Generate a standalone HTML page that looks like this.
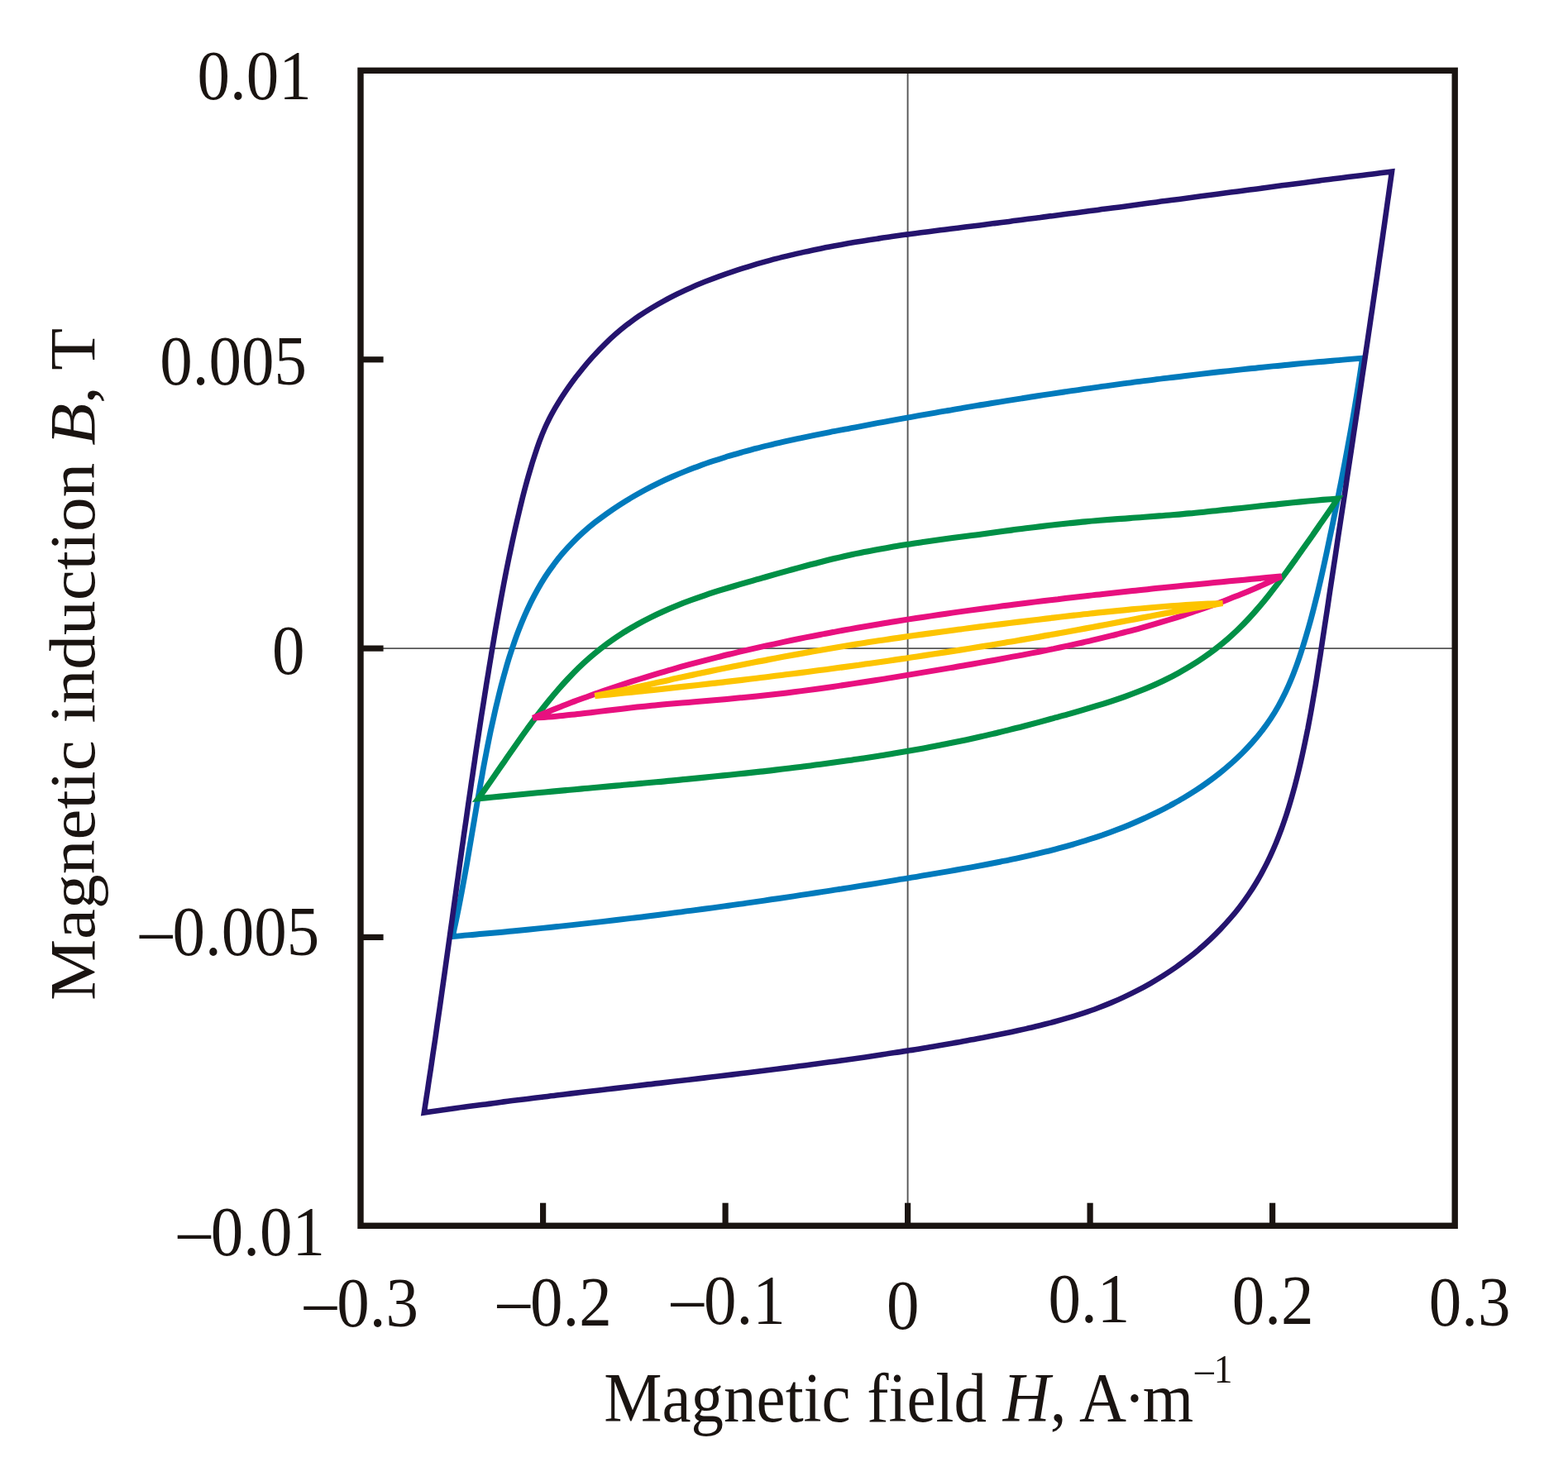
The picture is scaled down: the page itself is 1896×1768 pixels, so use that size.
<!DOCTYPE html>
<html lang="en">
<head>
<meta charset="utf-8">
<title>Hysteresis loops: magnetic induction B versus magnetic field H</title>
<style>
html,body{margin:0;padding:0;background:#fff;}
body{width:1896px;height:1768px;overflow:hidden;font-family:"Liberation Serif",serif;}
svg{display:block;}
</style>
</head>
<body>
<svg xmlns="http://www.w3.org/2000/svg" width="1896" height="1768" viewBox="0 0 1896 1768">
<rect width="1896" height="1768" fill="#ffffff"/>
<g stroke="#555555" stroke-width="1.9" fill="none">
<line x1="436.0" y1="784.1" x2="1759.2" y2="784.1"/>
<line x1="1097.6" y1="85.3" x2="1097.6" y2="1482.3"/>
</g>
<g fill="none" stroke-linejoin="miter" stroke-linecap="butt">
<path d="M1647.5 433.1C1641.5 433.6 1635.4 434.1 1629.4 434.6C1623.4 435.1 1617.4 435.6 1611.3 436.2C1605.3 436.7 1599.3 437.2 1593.3 437.8C1587.3 438.3 1581.3 438.9 1575.3 439.4C1569.3 440.0 1563.2 440.6 1557.2 441.2C1551.2 441.7 1545.2 442.3 1539.2 442.9C1533.3 443.5 1527.3 444.1 1521.3 444.7C1515.3 445.4 1509.3 446.0 1503.3 446.6C1497.3 447.3 1491.3 447.9 1485.4 448.6C1479.4 449.2 1473.4 449.9 1467.4 450.5C1461.5 451.2 1455.5 451.9 1449.5 452.6C1443.6 453.3 1437.6 454.0 1431.6 454.7C1425.6 455.4 1419.7 456.1 1413.7 456.9C1407.8 457.6 1401.8 458.3 1395.8 459.1C1389.9 459.8 1383.9 460.6 1378.0 461.4C1372.0 462.1 1366.1 462.9 1360.1 463.7C1354.2 464.5 1348.2 465.3 1342.3 466.1C1336.3 466.9 1330.4 467.7 1324.4 468.6C1318.5 469.4 1312.5 470.2 1306.6 471.1C1300.6 471.9 1294.7 472.8 1288.7 473.7C1282.8 474.6 1276.9 475.4 1270.9 476.3C1265.0 477.2 1259.0 478.1 1253.1 479.0C1247.2 480.0 1241.2 480.9 1235.3 481.8C1229.3 482.7 1223.4 483.7 1217.5 484.6C1211.5 485.6 1205.6 486.5 1199.6 487.5C1193.7 488.5 1187.8 489.5 1181.8 490.4C1175.9 491.4 1170.0 492.4 1164.0 493.4C1158.1 494.4 1152.1 495.4 1146.2 496.5C1140.3 497.5 1134.3 498.5 1128.4 499.6C1122.4 500.6 1116.5 501.7 1110.6 502.7C1104.6 503.8 1098.7 504.8 1092.7 505.9C1086.8 507.0 1080.9 508.1 1074.9 509.2C1069.0 510.2 1063.0 511.3 1057.1 512.4C1051.1 513.5 1045.2 514.7 1039.3 515.8C1033.3 516.9 1027.4 518.0 1021.4 519.2C1015.5 520.3 1009.5 521.4 1003.6 522.6C997.6 523.8 991.7 524.9 985.7 526.1C979.8 527.3 973.9 528.6 967.9 529.8C962.0 531.1 956.1 532.4 950.2 533.7C944.3 535.0 938.4 536.4 932.5 537.8C926.7 539.2 920.8 540.6 915.0 542.1C909.1 543.6 903.3 545.2 897.5 546.8C891.7 548.4 886.0 550.1 880.2 551.8C874.5 553.6 868.7 555.4 863.1 557.3C857.4 559.2 851.7 561.1 846.1 563.2C840.5 565.2 834.9 567.4 829.3 569.6C823.8 571.8 818.2 574.1 812.8 576.5C807.3 578.9 801.8 581.4 796.4 584.1C791.0 586.7 785.7 589.4 780.4 592.2C775.1 595.1 769.8 598.0 764.6 601.1C759.4 604.1 754.2 607.3 749.2 610.6C744.1 613.9 739.1 617.3 734.1 620.8C729.2 624.3 724.4 627.9 719.6 631.6C714.9 635.3 710.3 639.2 705.8 643.2C701.3 647.2 697.0 651.3 692.8 655.6C688.6 659.9 684.5 664.3 680.6 668.8C676.7 673.3 673.0 678.0 669.5 682.8C665.9 687.5 662.5 692.4 659.3 697.4C656.1 702.4 653.0 707.6 650.1 712.7C647.2 717.9 644.4 723.2 641.7 728.6C639.1 734.0 636.6 739.4 634.2 744.9C631.8 750.5 629.5 756.1 627.3 761.7C625.1 767.3 623.1 773.0 621.1 778.8C619.1 784.5 617.2 790.3 615.4 796.1C613.6 801.9 611.9 807.8 610.3 813.6C608.6 819.5 607.1 825.4 605.5 831.3C604.0 837.2 602.6 843.1 601.2 849.0C599.7 854.9 598.4 860.8 597.1 866.7C595.8 872.5 594.5 878.4 593.2 884.3C592.0 890.2 590.8 896.1 589.6 902.0C588.5 907.9 587.3 913.8 586.2 919.7C585.1 925.5 584.0 931.4 583.0 937.3C581.9 943.2 580.8 949.1 579.8 955.0C578.8 960.9 577.8 966.8 576.7 972.7C575.7 978.5 574.7 984.4 573.7 990.3C572.7 996.2 571.7 1002.1 570.7 1008.0C569.7 1013.9 568.7 1019.8 567.7 1025.7C566.7 1031.7 565.7 1037.6 564.7 1043.5C563.6 1049.4 562.6 1055.3 561.5 1061.2C560.4 1067.2 559.3 1073.1 558.2 1079.0C557.1 1084.9 556.0 1090.9 554.8 1096.8C553.6 1102.8 552.4 1108.7 551.2 1114.6C549.9 1120.6 548.6 1126.5 547.3 1132.5C553.4 1132.0 559.4 1131.5 565.5 1130.9C571.5 1130.4 577.5 1129.9 583.6 1129.3C589.6 1128.8 595.6 1128.2 601.7 1127.7C607.7 1127.1 613.7 1126.5 619.7 1126.0C625.8 1125.4 631.8 1124.8 637.8 1124.2C643.8 1123.6 649.8 1123.0 655.8 1122.4C661.8 1121.8 667.8 1121.1 673.8 1120.5C679.8 1119.9 685.8 1119.2 691.7 1118.6C697.7 1117.9 703.7 1117.3 709.7 1116.6C715.7 1115.9 721.6 1115.3 727.6 1114.6C733.6 1113.9 739.6 1113.2 745.5 1112.5C751.5 1111.8 757.5 1111.1 763.4 1110.4C769.4 1109.6 775.3 1108.9 781.3 1108.2C787.2 1107.5 793.2 1106.7 799.2 1106.0C805.1 1105.2 811.1 1104.5 817.0 1103.7C823.0 1102.9 828.9 1102.1 834.9 1101.4C840.8 1100.6 846.7 1099.8 852.7 1099.0C858.6 1098.2 864.6 1097.4 870.5 1096.6C876.5 1095.8 882.4 1095.0 888.3 1094.1C894.3 1093.3 900.2 1092.5 906.2 1091.6C912.1 1090.8 918.1 1089.9 924.0 1089.1C929.9 1088.2 935.9 1087.3 941.8 1086.5C947.8 1085.6 953.7 1084.7 959.6 1083.8C965.6 1082.9 971.5 1082.0 977.5 1081.1C983.4 1080.2 989.4 1079.3 995.3 1078.4C1001.3 1077.5 1007.2 1076.6 1013.2 1075.6C1019.1 1074.7 1025.1 1073.8 1031.0 1072.8C1037.0 1071.9 1042.9 1070.9 1048.9 1070.0C1054.8 1069.0 1060.8 1068.1 1066.7 1067.1C1072.7 1066.1 1078.7 1065.1 1084.6 1064.1C1090.6 1063.2 1096.6 1062.2 1102.5 1061.2C1108.5 1060.2 1114.5 1059.2 1120.5 1058.1C1126.5 1057.1 1132.4 1056.1 1138.4 1055.1C1144.4 1054.1 1150.4 1053.0 1156.4 1052.0C1162.4 1050.9 1168.3 1049.9 1174.3 1048.8C1180.3 1047.7 1186.3 1046.6 1192.3 1045.5C1198.2 1044.4 1204.2 1043.2 1210.2 1042.0C1216.1 1040.8 1222.1 1039.6 1228.0 1038.3C1233.9 1037.1 1239.8 1035.8 1245.8 1034.4C1251.6 1033.1 1257.5 1031.7 1263.4 1030.2C1269.3 1028.8 1275.1 1027.3 1281.0 1025.7C1286.8 1024.2 1292.6 1022.6 1298.4 1020.9C1304.1 1019.2 1309.9 1017.5 1315.6 1015.6C1321.3 1013.8 1327.0 1011.9 1332.7 1010.0C1338.3 1008.0 1344.0 1005.9 1349.6 1003.8C1355.2 1001.7 1360.7 999.5 1366.2 997.2C1371.7 994.9 1377.2 992.5 1382.7 990.0C1388.1 987.6 1393.5 985.0 1398.9 982.4C1404.2 979.7 1409.5 977.0 1414.8 974.2C1420.0 971.3 1425.3 968.4 1430.4 965.4C1435.6 962.3 1440.7 959.1 1445.7 955.9C1450.8 952.6 1455.8 949.2 1460.7 945.6C1465.6 942.1 1470.4 938.4 1475.1 934.7C1479.9 930.9 1484.5 927.0 1489.0 923.0C1493.5 919.0 1498.0 914.8 1502.2 910.6C1506.5 906.3 1510.6 901.9 1514.6 897.4C1518.6 892.9 1522.5 888.3 1526.1 883.5C1529.8 878.8 1533.3 873.9 1536.6 868.9C1539.9 863.9 1543.0 858.8 1545.9 853.6C1548.9 848.3 1551.6 843.0 1554.2 837.6C1556.8 832.1 1559.2 826.6 1561.5 821.0C1563.8 815.5 1565.9 809.8 1568.0 804.1C1570.0 798.4 1572.0 792.7 1573.8 786.9C1575.7 781.1 1577.5 775.3 1579.2 769.5C1580.9 763.7 1582.6 757.9 1584.2 752.1C1585.8 746.3 1587.3 740.4 1588.8 734.6C1590.3 728.8 1591.7 722.9 1593.2 717.1C1594.6 711.2 1595.9 705.3 1597.3 699.5C1598.6 693.6 1599.9 687.7 1601.2 681.9C1602.5 676.0 1603.8 670.1 1605.0 664.2C1606.3 658.3 1607.5 652.4 1608.7 646.5C1610.0 640.6 1611.2 634.7 1612.4 628.8C1613.6 622.9 1614.8 617.0 1616.0 611.1C1617.2 605.2 1618.4 599.3 1619.5 593.3C1620.7 587.4 1621.9 581.5 1623.0 575.6C1624.2 569.6 1625.3 563.7 1626.4 557.8C1627.5 551.8 1628.6 545.9 1629.7 540.0C1630.8 534.0 1631.9 528.1 1633.0 522.2C1634.0 516.2 1635.1 510.3 1636.1 504.4C1637.1 498.4 1638.1 492.5 1639.1 486.5C1640.1 480.6 1641.1 474.7 1642.0 468.7C1643.0 462.8 1643.9 456.8 1644.8 450.9C1645.7 445.0 1646.6 439.0 1647.5 433.1Z" stroke="#007abc" stroke-width="6.9" stroke-miterlimit="4"/>
<path d="M1683.0 207.5C1677.1 208.2 1671.2 208.9 1665.4 209.7C1659.5 210.4 1653.6 211.1 1647.7 211.9C1641.8 212.6 1635.9 213.4 1630.0 214.1C1624.1 214.8 1618.2 215.6 1612.3 216.3C1606.4 217.1 1600.4 217.9 1594.5 218.6C1588.6 219.4 1582.7 220.1 1576.8 220.9C1570.8 221.7 1564.9 222.4 1559.0 223.2C1553.1 224.0 1547.1 224.7 1541.2 225.5C1535.3 226.3 1529.3 227.1 1523.4 227.9C1517.5 228.6 1511.5 229.4 1505.6 230.2C1499.7 231.0 1493.7 231.8 1487.8 232.6C1481.8 233.4 1475.9 234.1 1469.9 234.9C1464.0 235.7 1458.1 236.5 1452.1 237.3C1446.2 238.1 1440.2 238.9 1434.3 239.7C1428.3 240.5 1422.4 241.3 1416.4 242.1C1410.5 242.8 1404.5 243.6 1398.6 244.4C1392.6 245.2 1386.7 246.0 1380.7 246.8C1374.8 247.6 1368.8 248.4 1362.9 249.2C1356.9 250.0 1351.0 250.8 1345.0 251.6C1339.1 252.3 1333.1 253.1 1327.2 253.9C1321.2 254.7 1315.3 255.5 1309.3 256.3C1303.4 257.1 1297.4 257.8 1291.5 258.6C1285.5 259.4 1279.6 260.2 1273.6 261.0C1267.7 261.7 1261.8 262.5 1255.8 263.3C1249.9 264.0 1243.9 264.8 1238.0 265.6C1232.1 266.3 1226.1 267.1 1220.2 267.9C1214.3 268.6 1208.3 269.4 1202.4 270.1C1196.5 270.9 1190.6 271.6 1184.6 272.4C1178.7 273.1 1172.8 273.9 1166.9 274.6C1161.0 275.3 1155.1 276.1 1149.2 276.8C1143.2 277.6 1137.3 278.3 1131.4 279.0C1125.5 279.8 1119.6 280.5 1113.7 281.3C1107.8 282.1 1102.0 282.9 1096.1 283.6C1090.2 284.4 1084.3 285.3 1078.4 286.1C1072.5 286.9 1066.7 287.8 1060.8 288.7C1054.9 289.6 1049.1 290.5 1043.2 291.4C1037.3 292.4 1031.5 293.3 1025.6 294.3C1019.8 295.4 1013.9 296.4 1008.1 297.5C1002.2 298.6 996.4 299.7 990.6 300.9C984.7 302.1 978.9 303.3 973.1 304.6C967.3 305.9 961.5 307.2 955.7 308.6C949.8 310.0 944.0 311.4 938.3 312.9C932.5 314.4 926.7 316.0 920.9 317.6C915.1 319.3 909.3 321.0 903.6 322.8C897.8 324.5 892.0 326.4 886.3 328.3C880.5 330.2 874.8 332.2 869.1 334.3C863.4 336.4 857.7 338.6 852.1 340.8C846.5 343.1 840.9 345.4 835.3 347.9C829.8 350.3 824.3 352.9 818.9 355.5C813.5 358.2 808.2 360.9 802.9 363.8C797.7 366.6 792.5 369.6 787.4 372.7C782.3 375.8 777.3 379.0 772.4 382.3C767.6 385.6 762.8 389.1 758.1 392.7C753.5 396.3 749.0 400.0 744.6 403.8C740.1 407.7 735.9 411.7 731.7 415.8C727.5 419.9 723.4 424.1 719.5 428.5C715.4 432.8 711.5 437.3 707.7 441.8C703.9 446.4 700.2 451.1 696.5 455.8C692.9 460.6 689.3 465.5 685.9 470.4C682.5 475.4 679.1 480.4 676.0 485.6C672.8 490.7 669.8 495.9 666.9 501.2C664.1 506.5 661.4 511.8 659.0 517.3C656.6 522.7 654.4 528.2 652.3 533.7C650.3 539.2 648.4 544.9 646.6 550.5C644.7 556.1 642.9 561.8 641.3 567.5C639.6 573.2 637.9 579.0 636.4 584.7C634.8 590.5 633.3 596.3 631.8 602.1C630.4 607.9 628.9 613.8 627.6 619.6C626.2 625.4 624.8 631.3 623.5 637.1C622.2 643.0 620.9 648.8 619.6 654.7C618.4 660.5 617.1 666.4 615.9 672.2C614.7 678.1 613.5 684.0 612.3 689.8C611.2 695.7 610.0 701.6 608.9 707.5C607.8 713.3 606.7 719.2 605.6 725.1C604.6 731.0 603.5 736.9 602.4 742.8C601.4 748.6 600.4 754.5 599.3 760.4C598.3 766.3 597.3 772.2 596.3 778.1C595.3 784.0 594.3 789.9 593.4 795.8C592.4 801.7 591.4 807.6 590.5 813.5C589.5 819.4 588.5 825.3 587.6 831.2C586.7 837.1 585.7 843.0 584.8 848.9C583.9 854.8 582.9 860.7 582.0 866.6C581.1 872.5 580.2 878.4 579.3 884.3C578.4 890.2 577.5 896.1 576.6 902.0C575.7 907.9 574.8 913.8 574.0 919.7C573.1 925.6 572.2 931.6 571.4 937.5C570.5 943.4 569.6 949.3 568.8 955.2C567.9 961.1 567.1 967.0 566.2 972.9C565.4 978.8 564.5 984.7 563.7 990.7C562.8 996.6 562.0 1002.5 561.1 1008.4C560.3 1014.3 559.5 1020.2 558.6 1026.1C557.8 1032.0 557.0 1038.0 556.1 1043.9C555.3 1049.8 554.5 1055.7 553.7 1061.6C552.8 1067.5 552.0 1073.4 551.2 1079.4C550.4 1085.3 549.5 1091.2 548.7 1097.1C547.9 1103.0 547.1 1108.9 546.3 1114.9C545.4 1120.8 544.6 1126.7 543.8 1132.6C543.0 1138.5 542.1 1144.4 541.3 1150.4C540.5 1156.3 539.6 1162.2 538.8 1168.1C538.0 1174.0 537.2 1179.9 536.3 1185.9C535.5 1191.8 534.6 1197.7 533.8 1203.6C533.0 1209.5 532.1 1215.5 531.3 1221.4C530.4 1227.3 529.6 1233.2 528.7 1239.1C527.9 1245.0 527.0 1251.0 526.2 1256.9C525.3 1262.8 524.4 1268.7 523.5 1274.6C522.7 1280.5 521.8 1286.5 520.9 1292.4C520.0 1298.3 519.1 1304.2 518.2 1310.1C517.4 1316.0 516.5 1321.9 515.5 1327.9C514.6 1333.8 513.7 1339.7 512.8 1345.6C518.7 1344.7 524.7 1343.9 530.6 1343.0C536.5 1342.2 542.4 1341.4 548.4 1340.6C554.3 1339.7 560.2 1338.9 566.2 1338.1C572.1 1337.3 578.0 1336.5 584.0 1335.7C589.9 1335.0 595.8 1334.2 601.7 1333.4C607.7 1332.7 613.6 1331.9 619.5 1331.1C625.5 1330.4 631.4 1329.6 637.3 1328.9C643.2 1328.2 649.2 1327.4 655.1 1326.7C661.0 1326.0 667.0 1325.3 672.9 1324.5C678.8 1323.8 684.8 1323.1 690.7 1322.4C696.6 1321.7 702.5 1321.0 708.5 1320.3C714.4 1319.6 720.3 1318.9 726.3 1318.2C732.2 1317.5 738.1 1316.8 744.0 1316.1C750.0 1315.4 755.9 1314.7 761.8 1314.0C767.8 1313.3 773.7 1312.6 779.6 1311.9C785.5 1311.3 791.5 1310.6 797.4 1309.9C803.3 1309.2 809.2 1308.5 815.2 1307.8C821.1 1307.1 827.0 1306.4 832.9 1305.7C838.9 1305.0 844.8 1304.3 850.7 1303.6C856.6 1302.9 862.6 1302.2 868.5 1301.5C874.4 1300.8 880.3 1300.1 886.3 1299.4C892.2 1298.7 898.1 1297.9 904.0 1297.2C910.0 1296.5 915.9 1295.7 921.8 1295.0C927.7 1294.3 933.6 1293.5 939.6 1292.8C945.5 1292.0 951.4 1291.3 957.3 1290.5C963.2 1289.7 969.2 1289.0 975.1 1288.2C981.0 1287.4 986.9 1286.6 992.8 1285.8C998.7 1285.0 1004.7 1284.2 1010.6 1283.4C1016.5 1282.6 1022.4 1281.7 1028.3 1280.9C1034.2 1280.1 1040.2 1279.2 1046.1 1278.4C1052.0 1277.5 1057.9 1276.6 1063.8 1275.7C1069.7 1274.9 1075.6 1274.0 1081.5 1273.1C1087.4 1272.1 1093.4 1271.2 1099.3 1270.3C1105.2 1269.4 1111.1 1268.4 1117.0 1267.4C1122.9 1266.5 1128.8 1265.5 1134.7 1264.5C1140.6 1263.5 1146.5 1262.5 1152.4 1261.5C1158.3 1260.5 1164.2 1259.4 1170.1 1258.3C1176.0 1257.3 1181.9 1256.2 1187.8 1255.1C1193.7 1253.9 1199.6 1252.8 1205.4 1251.6C1211.3 1250.4 1217.1 1249.2 1223.0 1248.0C1228.8 1246.7 1234.7 1245.4 1240.5 1244.1C1246.3 1242.8 1252.1 1241.4 1257.9 1240.0C1263.6 1238.5 1269.4 1237.1 1275.2 1235.5C1280.9 1234.0 1286.6 1232.4 1292.3 1230.7C1298.0 1229.0 1303.7 1227.3 1309.4 1225.4C1315.0 1223.5 1320.6 1221.6 1326.2 1219.5C1331.8 1217.4 1337.4 1215.2 1342.9 1212.9C1348.4 1210.6 1353.9 1208.2 1359.3 1205.6C1364.8 1203.1 1370.2 1200.5 1375.5 1197.7C1380.8 1195.0 1386.1 1192.1 1391.3 1189.1C1396.5 1186.1 1401.6 1183.0 1406.7 1179.8C1411.7 1176.6 1416.7 1173.3 1421.6 1169.9C1426.5 1166.4 1431.4 1162.9 1436.1 1159.2C1440.8 1155.6 1445.5 1151.8 1450.0 1147.9C1454.6 1144.1 1459.0 1140.1 1463.3 1136.0C1467.7 1131.9 1471.9 1127.7 1476.0 1123.4C1480.1 1119.1 1484.1 1114.7 1488.0 1110.2C1491.9 1105.7 1495.6 1101.1 1499.2 1096.4C1502.8 1091.7 1506.3 1086.9 1509.6 1082.0C1513.0 1077.1 1516.2 1072.1 1519.2 1067.0C1522.3 1061.9 1525.2 1056.8 1527.9 1051.5C1530.7 1046.3 1533.3 1041.0 1535.8 1035.6C1538.3 1030.2 1540.7 1024.7 1543.0 1019.2C1545.3 1013.7 1547.4 1008.1 1549.5 1002.5C1551.6 996.9 1553.5 991.2 1555.4 985.5C1557.3 979.8 1559.0 974.1 1560.7 968.3C1562.4 962.5 1564.0 956.7 1565.6 950.9C1567.1 945.1 1568.6 939.2 1570.0 933.4C1571.5 927.5 1572.8 921.7 1574.1 915.8C1575.4 909.9 1576.7 904.1 1577.9 898.2C1579.1 892.3 1580.3 886.5 1581.5 880.6C1582.6 874.7 1583.7 868.8 1584.8 863.0C1585.9 857.1 1586.9 851.2 1587.9 845.3C1588.9 839.5 1589.9 833.6 1590.9 827.7C1591.8 821.8 1592.8 816.0 1593.7 810.1C1594.6 804.2 1595.5 798.3 1596.5 792.4C1597.4 786.5 1598.2 780.6 1599.1 774.8C1600.0 768.9 1600.9 763.0 1601.8 757.1C1602.7 751.2 1603.6 745.3 1604.5 739.4C1605.4 733.5 1606.3 727.6 1607.1 721.7C1608.0 715.8 1608.9 709.9 1609.8 704.0C1610.7 698.1 1611.6 692.2 1612.5 686.3C1613.4 680.4 1614.3 674.5 1615.2 668.6C1616.1 662.7 1616.9 656.8 1617.8 650.9C1618.7 645.0 1619.6 639.1 1620.5 633.2C1621.4 627.3 1622.3 621.4 1623.2 615.5C1624.1 609.6 1625.0 603.7 1625.9 597.8C1626.8 591.8 1627.7 585.9 1628.5 580.0C1629.4 574.1 1630.3 568.2 1631.2 562.3C1632.1 556.4 1633.0 550.5 1633.9 544.5C1634.8 538.6 1635.7 532.7 1636.5 526.8C1637.4 520.9 1638.3 515.0 1639.2 509.1C1640.1 503.1 1641.0 497.2 1641.9 491.3C1642.7 485.4 1643.6 479.5 1644.5 473.6C1645.4 467.6 1646.3 461.7 1647.1 455.8C1648.0 449.9 1648.9 444.0 1649.8 438.1C1650.7 432.1 1651.5 426.2 1652.4 420.3C1653.3 414.4 1654.1 408.5 1655.0 402.6C1655.9 396.6 1656.8 390.7 1657.6 384.8C1658.5 378.9 1659.4 373.0 1660.2 367.1C1661.1 361.2 1661.9 355.2 1662.8 349.3C1663.7 343.4 1664.5 337.5 1665.4 331.6C1666.2 325.7 1667.1 319.8 1667.9 313.8C1668.8 307.9 1669.6 302.0 1670.5 296.1C1671.3 290.2 1672.2 284.3 1673.0 278.4C1673.9 272.5 1674.7 266.6 1675.5 260.7C1676.4 254.7 1677.2 248.8 1678.0 242.9C1678.9 237.0 1679.7 231.1 1680.5 225.2C1681.4 219.3 1682.2 213.4 1683.0 207.5Z" stroke="#25146e" stroke-width="6.6" stroke-miterlimit="4"/>
<path d="M1617.5 603.0C1611.5 603.5 1605.5 603.9 1599.5 604.4C1593.5 604.9 1587.6 605.5 1581.6 606.0C1575.6 606.6 1569.6 607.2 1563.6 607.8C1557.6 608.4 1551.6 609.0 1545.6 609.6C1539.7 610.3 1533.7 610.9 1527.7 611.5C1521.7 612.2 1515.7 612.8 1509.7 613.5C1503.7 614.1 1497.7 614.8 1491.7 615.4C1485.8 616.1 1479.8 616.7 1473.8 617.3C1467.8 618.0 1461.8 618.6 1455.8 619.2C1449.8 619.8 1443.8 620.4 1437.9 620.9C1431.9 621.5 1425.9 622.0 1419.9 622.5C1413.9 623.0 1407.9 623.5 1401.9 623.9C1396.0 624.4 1390.0 624.8 1384.0 625.3C1378.0 625.7 1372.0 626.1 1366.1 626.6C1360.1 627.0 1354.1 627.4 1348.1 627.9C1342.2 628.4 1336.2 628.8 1330.2 629.3C1324.2 629.8 1318.3 630.3 1312.3 630.9C1306.3 631.4 1300.3 632.0 1294.4 632.6C1288.4 633.2 1282.4 633.9 1276.5 634.5C1270.5 635.2 1264.6 635.9 1258.6 636.6C1252.6 637.3 1246.7 638.1 1240.7 638.8C1234.8 639.6 1228.8 640.4 1222.9 641.1C1216.9 641.9 1211.0 642.7 1205.0 643.5C1199.1 644.3 1193.1 645.1 1187.2 645.9C1181.2 646.6 1175.3 647.4 1169.4 648.2C1163.4 649.0 1157.5 649.8 1151.6 650.6C1145.6 651.4 1139.7 652.2 1133.8 653.0C1127.8 653.9 1121.9 654.7 1116.0 655.6C1110.1 656.5 1104.2 657.3 1098.2 658.3C1092.3 659.2 1086.4 660.1 1080.5 661.1C1074.6 662.1 1068.7 663.2 1062.8 664.2C1056.9 665.3 1051.0 666.4 1045.1 667.6C1039.2 668.8 1033.3 670.0 1027.4 671.3C1021.5 672.6 1015.6 673.9 1009.8 675.3C1003.9 676.7 998.0 678.2 992.1 679.7C986.3 681.1 980.4 682.7 974.5 684.2C968.7 685.8 962.8 687.4 957.0 689.0C951.1 690.6 945.2 692.3 939.4 693.9C933.5 695.6 927.7 697.2 921.9 698.9C916.0 700.5 910.2 702.2 904.4 703.9C898.6 705.5 892.7 707.2 886.9 709.0C881.2 710.7 875.4 712.4 869.6 714.2C863.9 716.0 858.2 717.9 852.5 719.8C846.8 721.7 841.1 723.7 835.5 725.8C829.9 727.8 824.4 729.9 818.8 732.2C813.3 734.4 807.8 736.7 802.4 739.2C797.0 741.6 791.6 744.1 786.3 746.8C781.0 749.4 775.8 752.2 770.6 755.1C765.5 758.0 760.4 761.0 755.3 764.1C750.3 767.3 745.4 770.5 740.5 773.9C735.6 777.3 730.9 780.8 726.2 784.5C721.5 788.2 716.9 792.0 712.4 795.9C707.9 799.8 703.5 803.9 699.2 808.0C694.9 812.2 690.7 816.6 686.6 821.0C682.4 825.4 678.4 829.9 674.4 834.5C670.4 839.1 666.5 843.8 662.7 848.5C658.8 853.3 655.0 858.1 651.3 862.9C647.6 867.8 643.9 872.7 640.3 877.6C636.7 882.6 633.1 887.5 629.6 892.5C626.1 897.5 622.6 902.5 619.1 907.5C615.6 912.4 612.2 917.4 608.8 922.4C605.3 927.3 602.0 932.3 598.5 937.2C595.2 942.0 591.8 946.9 588.4 951.7C585.1 956.4 581.7 961.1 578.3 965.8C584.3 965.2 590.2 964.6 596.2 964.0C602.1 963.4 608.1 962.8 614.0 962.2C620.0 961.6 626.0 961.1 631.9 960.5C637.9 959.9 643.9 959.4 649.8 958.8C655.8 958.2 661.8 957.7 667.8 957.1C673.7 956.6 679.7 956.0 685.7 955.5C691.7 955.0 697.6 954.4 703.6 953.9C709.6 953.3 715.6 952.8 721.6 952.3C727.6 951.7 733.6 951.2 739.5 950.6C745.5 950.1 751.5 949.6 757.5 949.0C763.5 948.5 769.5 947.9 775.5 947.4C781.5 946.9 787.5 946.3 793.4 945.8C799.4 945.2 805.4 944.6 811.4 944.1C817.4 943.5 823.4 942.9 829.4 942.4C835.4 941.8 841.4 941.2 847.3 940.6C853.3 940.0 859.3 939.4 865.3 938.8C871.3 938.2 877.3 937.6 883.3 937.0C889.3 936.4 895.2 935.7 901.2 935.1C907.2 934.4 913.2 933.8 919.2 933.1C925.1 932.5 931.1 931.8 937.1 931.1C943.1 930.4 949.0 929.7 955.0 929.0C961.0 928.2 966.9 927.5 972.9 926.8C978.9 926.0 984.8 925.2 990.8 924.5C996.8 923.7 1002.7 922.9 1008.7 922.1C1014.6 921.2 1020.6 920.4 1026.5 919.5C1032.5 918.7 1038.4 917.8 1044.4 916.9C1050.3 916.0 1056.2 915.1 1062.2 914.2C1068.1 913.3 1074.0 912.3 1080.0 911.3C1085.9 910.3 1091.8 909.3 1097.7 908.3C1103.6 907.3 1109.5 906.2 1115.4 905.2C1121.4 904.1 1127.3 903.0 1133.2 901.8C1139.1 900.7 1144.9 899.5 1150.8 898.3C1156.7 897.1 1162.6 895.9 1168.5 894.7C1174.4 893.4 1180.2 892.1 1186.1 890.8C1192.0 889.5 1197.8 888.1 1203.7 886.7C1209.5 885.3 1215.4 883.9 1221.2 882.4C1227.1 881.0 1232.9 879.5 1238.7 878.0C1244.6 876.5 1250.4 874.9 1256.2 873.4C1262.0 871.8 1267.8 870.2 1273.6 868.6C1279.4 867.1 1285.2 865.4 1291.0 863.8C1296.8 862.2 1302.6 860.5 1308.3 858.8C1314.1 857.2 1319.9 855.5 1325.6 853.7C1331.3 852.0 1337.1 850.2 1342.8 848.3C1348.4 846.5 1354.1 844.6 1359.7 842.6C1365.3 840.6 1370.9 838.5 1376.5 836.3C1382.0 834.2 1387.5 831.9 1393.0 829.5C1398.4 827.1 1403.8 824.7 1409.2 822.0C1414.5 819.4 1419.8 816.7 1425.0 813.8C1430.2 810.9 1435.4 808.0 1440.5 804.8C1445.5 801.7 1450.5 798.5 1455.4 795.1C1460.4 791.7 1465.2 788.2 1469.9 784.6C1474.7 780.9 1479.3 777.1 1483.9 773.2C1488.4 769.3 1492.9 765.2 1497.2 761.0C1501.6 756.8 1505.8 752.5 1510.0 748.0C1514.1 743.6 1518.2 739.0 1522.1 734.4C1526.1 729.7 1530.0 725.0 1533.8 720.2C1537.6 715.4 1541.4 710.5 1545.1 705.7C1548.8 700.8 1552.4 695.9 1556.0 691.0C1559.5 686.1 1563.0 681.2 1566.6 676.3C1570.0 671.4 1573.5 666.5 1576.9 661.7C1580.4 656.8 1583.8 652.0 1587.2 647.2C1590.5 642.3 1593.9 637.5 1597.3 632.6C1600.6 627.7 1604.0 622.8 1607.4 617.9C1610.8 613.0 1614.1 608.0 1617.5 603.0Z" stroke="#009046" stroke-width="7.1" stroke-miterlimit="4"/>
<path d="M1549.5 697.0C1543.5 697.5 1537.5 698.1 1531.6 698.6C1525.6 699.2 1519.6 699.7 1513.6 700.3C1507.6 700.9 1501.6 701.4 1495.6 702.0C1489.6 702.6 1483.6 703.1 1477.6 703.7C1471.6 704.3 1465.6 704.8 1459.6 705.4C1453.6 706.0 1447.6 706.6 1441.6 707.2C1435.6 707.8 1429.6 708.4 1423.6 709.0C1417.5 709.6 1411.5 710.2 1405.5 710.8C1399.5 711.4 1393.5 712.0 1387.5 712.7C1381.4 713.3 1375.4 713.9 1369.4 714.6C1363.4 715.2 1357.4 715.9 1351.3 716.5C1345.3 717.2 1339.3 717.8 1333.3 718.5C1327.3 719.1 1321.2 719.8 1315.2 720.5C1309.2 721.2 1303.2 721.9 1297.2 722.6C1291.1 723.2 1285.1 723.9 1279.1 724.7C1273.1 725.4 1267.1 726.1 1261.0 726.8C1255.0 727.5 1249.0 728.3 1243.0 729.0C1237.0 729.8 1231.0 730.5 1224.9 731.3C1218.9 732.0 1212.9 732.8 1206.9 733.6C1200.9 734.4 1194.9 735.2 1188.9 736.0C1182.9 736.8 1176.9 737.6 1170.9 738.4C1164.9 739.2 1158.9 740.1 1152.9 740.9C1146.9 741.8 1140.9 742.6 1134.9 743.5C1128.9 744.4 1122.9 745.3 1116.9 746.2C1110.9 747.1 1105.0 748.0 1099.0 748.9C1093.0 749.9 1087.0 750.8 1081.1 751.8C1075.1 752.7 1069.1 753.7 1063.1 754.7C1057.2 755.7 1051.2 756.7 1045.3 757.7C1039.3 758.8 1033.4 759.8 1027.4 760.9C1021.5 761.9 1015.5 763.0 1009.6 764.1C1003.7 765.2 997.7 766.3 991.8 767.5C985.9 768.6 979.9 769.8 974.0 770.9C968.1 772.1 962.2 773.3 956.3 774.5C950.4 775.8 944.5 777.0 938.6 778.3C932.7 779.5 926.8 780.8 920.9 782.1C915.0 783.4 909.2 784.8 903.3 786.1C897.4 787.5 891.6 788.9 885.7 790.3C879.9 791.7 874.0 793.1 868.2 794.6C862.3 796.1 856.5 797.6 850.7 799.1C844.8 800.6 839.0 802.2 833.2 803.7C827.4 805.3 821.6 806.9 815.8 808.6C810.0 810.2 804.2 811.9 798.4 813.6C792.6 815.3 786.9 817.0 781.1 818.8C775.3 820.6 769.6 822.4 763.8 824.2C758.1 826.0 752.3 827.9 746.6 829.8C740.9 831.7 735.2 833.7 729.4 835.6C723.7 837.6 718.0 839.6 712.3 841.7C706.6 843.7 701.0 845.8 695.3 847.9C689.6 850.1 683.9 852.2 678.3 854.5C672.6 856.7 667.0 858.9 661.4 861.2C655.7 863.5 650.1 865.8 644.5 868.2C650.5 867.8 656.4 867.5 662.4 867.0C668.4 866.5 674.3 866.0 680.3 865.4C686.3 864.8 692.3 864.2 698.3 863.5C704.3 862.9 710.2 862.2 716.2 861.5C722.2 860.8 728.2 860.0 734.2 859.3C740.2 858.6 746.2 857.9 752.2 857.2C758.3 856.5 764.3 855.8 770.3 855.1C776.3 854.5 782.3 853.8 788.3 853.2C794.3 852.7 800.4 852.1 806.4 851.5C812.4 851.0 818.4 850.5 824.5 850.0C830.5 849.4 836.5 848.9 842.6 848.4C848.6 847.9 854.6 847.4 860.6 846.9C866.7 846.4 872.7 845.9 878.7 845.4C884.8 844.8 890.8 844.3 896.8 843.7C902.9 843.1 908.9 842.5 914.9 841.9C921.0 841.3 927.0 840.6 933.1 840.0C939.1 839.3 945.1 838.6 951.2 837.9C957.2 837.1 963.2 836.4 969.2 835.6C975.3 834.8 981.3 834.0 987.3 833.2C993.4 832.4 999.4 831.5 1005.4 830.7C1011.4 829.8 1017.5 828.9 1023.5 828.0C1029.5 827.1 1035.5 826.2 1041.5 825.3C1047.5 824.4 1053.5 823.4 1059.6 822.5C1065.6 821.5 1071.6 820.5 1077.6 819.6C1083.6 818.6 1089.6 817.6 1095.6 816.6C1101.6 815.6 1107.6 814.6 1113.5 813.6C1119.5 812.6 1125.5 811.6 1131.5 810.6C1137.5 809.6 1143.4 808.6 1149.4 807.6C1155.4 806.5 1161.4 805.5 1167.3 804.5C1173.3 803.5 1179.2 802.4 1185.2 801.4C1191.1 800.3 1197.1 799.3 1203.0 798.2C1209.0 797.1 1214.9 796.0 1220.8 794.9C1226.7 793.9 1232.7 792.7 1238.6 791.6C1244.5 790.5 1250.4 789.3 1256.3 788.2C1262.2 787.0 1268.1 785.8 1274.0 784.6C1279.9 783.4 1285.7 782.1 1291.6 780.9C1297.5 779.6 1303.3 778.3 1309.2 777.0C1315.1 775.7 1320.9 774.3 1326.7 772.9C1332.6 771.5 1338.4 770.1 1344.2 768.7C1350.1 767.2 1355.9 765.8 1361.7 764.2C1367.5 762.7 1373.3 761.2 1379.1 759.6C1384.9 758.0 1390.6 756.3 1396.4 754.7C1402.2 753.0 1407.9 751.3 1413.7 749.5C1419.4 747.7 1425.2 745.9 1430.9 744.1C1436.6 742.2 1442.3 740.3 1448.0 738.3C1453.7 736.4 1459.4 734.4 1465.1 732.3C1470.8 730.2 1476.5 728.1 1482.1 725.9C1487.8 723.8 1493.5 721.5 1499.1 719.3C1504.7 717.0 1510.4 714.6 1516.0 712.2C1521.6 709.8 1527.2 707.3 1532.8 704.8C1538.4 702.3 1543.9 699.6 1549.5 697.0Z" stroke="#e8107f" stroke-width="7.0" stroke-miterlimit="4"/>
<path d="M1478.5 729.5C1472.6 729.7 1466.6 729.9 1460.7 730.2C1454.7 730.5 1448.8 730.8 1442.8 731.1C1436.9 731.5 1430.9 731.9 1425.0 732.3C1419.1 732.7 1413.1 733.1 1407.2 733.5C1401.2 734.0 1395.3 734.5 1389.4 735.0C1383.4 735.5 1377.5 736.0 1371.6 736.6C1365.6 737.1 1359.7 737.7 1353.8 738.3C1347.8 738.9 1341.9 739.5 1336.0 740.1C1330.0 740.7 1324.1 741.3 1318.2 742.0C1312.3 742.6 1306.3 743.3 1300.4 744.0C1294.5 744.7 1288.6 745.3 1282.6 746.0C1276.7 746.7 1270.8 747.4 1264.9 748.1C1259.0 748.8 1253.0 749.6 1247.1 750.3C1241.2 751.0 1235.3 751.7 1229.4 752.4C1223.5 753.1 1217.6 753.9 1211.7 754.6C1205.7 755.3 1199.8 756.1 1193.9 756.8C1188.0 757.5 1182.1 758.3 1176.2 759.0C1170.3 759.8 1164.4 760.6 1158.5 761.3C1152.6 762.1 1146.7 762.9 1140.8 763.7C1134.9 764.5 1129.0 765.3 1123.1 766.1C1117.2 766.9 1111.3 767.7 1105.4 768.5C1099.5 769.4 1093.7 770.2 1087.8 771.1C1081.9 771.9 1076.0 772.8 1070.1 773.7C1064.2 774.5 1058.3 775.4 1052.5 776.3C1046.6 777.3 1040.7 778.2 1034.8 779.1C1028.9 780.1 1023.1 781.0 1017.2 782.0C1011.3 783.0 1005.4 784.0 999.6 785.0C993.7 786.0 987.8 787.0 982.0 788.0C976.1 789.0 970.2 790.1 964.4 791.1C958.5 792.2 952.6 793.3 946.8 794.3C940.9 795.4 935.1 796.5 929.2 797.6C923.4 798.8 917.5 799.9 911.6 801.0C905.8 802.2 899.9 803.3 894.1 804.5C888.3 805.6 882.4 806.8 876.6 808.0C870.7 809.2 864.9 810.4 859.0 811.6C853.2 812.8 847.4 814.1 841.5 815.3C835.7 816.6 829.9 817.8 824.0 819.1C818.2 820.3 812.4 821.6 806.5 822.9C800.7 824.1 794.9 825.4 789.1 826.7C783.2 828.0 777.4 829.3 771.6 830.5C765.8 831.8 760.0 833.0 754.2 834.3C748.3 835.5 742.5 836.8 736.7 838.0C730.9 839.2 725.1 840.4 719.3 841.6C725.2 841.0 731.2 840.4 737.1 839.8C743.0 839.2 748.9 838.6 754.9 838.0C760.8 837.4 766.7 836.8 772.6 836.2C778.6 835.5 784.5 834.9 790.4 834.3C796.3 833.7 802.2 833.0 808.2 832.4C814.1 831.7 820.0 831.1 825.9 830.4C831.8 829.8 837.7 829.1 843.7 828.5C849.6 827.8 855.5 827.1 861.4 826.4C867.3 825.8 873.2 825.1 879.1 824.4C885.0 823.7 891.0 823.0 896.9 822.3C902.8 821.6 908.7 820.9 914.6 820.2C920.5 819.5 926.4 818.8 932.3 818.0C938.2 817.3 944.1 816.6 950.0 815.8C955.9 815.1 961.8 814.3 967.7 813.6C973.6 812.8 979.5 812.1 985.4 811.3C991.3 810.5 997.2 809.7 1003.1 809.0C1009.0 808.2 1014.9 807.4 1020.8 806.6C1026.7 805.8 1032.6 805.0 1038.5 804.2C1044.4 803.3 1050.2 802.5 1056.1 801.7C1062.0 800.9 1067.9 800.0 1073.8 799.2C1079.7 798.3 1085.6 797.5 1091.5 796.6C1097.3 795.8 1103.2 794.9 1109.1 794.0C1115.0 793.1 1120.9 792.2 1126.8 791.3C1132.6 790.4 1138.5 789.5 1144.4 788.6C1150.3 787.7 1156.2 786.8 1162.0 785.9C1167.9 784.9 1173.8 784.0 1179.7 783.0C1185.6 782.1 1191.4 781.1 1197.3 780.2C1203.2 779.2 1209.0 778.2 1214.9 777.2C1220.8 776.3 1226.7 775.3 1232.5 774.3C1238.4 773.3 1244.3 772.2 1250.1 771.2C1256.0 770.2 1261.9 769.2 1267.7 768.1C1273.6 767.1 1279.5 766.1 1285.3 765.0C1291.2 763.9 1297.1 762.9 1302.9 761.8C1308.8 760.7 1314.6 759.6 1320.5 758.5C1326.4 757.4 1332.2 756.3 1338.1 755.2C1343.9 754.1 1349.8 753.0 1355.7 751.9C1361.5 750.8 1367.4 749.7 1373.2 748.6C1379.1 747.5 1384.9 746.3 1390.8 745.2C1396.6 744.1 1402.5 743.0 1408.3 741.9C1414.2 740.9 1420.0 739.8 1425.9 738.7C1431.7 737.6 1437.6 736.6 1443.4 735.5C1449.3 734.5 1455.1 733.5 1461.0 732.5C1466.8 731.5 1472.7 730.5 1478.5 729.5Z" stroke="#fdc400" stroke-width="7.2" stroke-miterlimit="4"/>
</g>
<g stroke="#1a1411" fill="none">
<rect x="436.0" y="85.3" width="1323.2" height="1397.0" stroke-width="7.4"/>
<line x1="656.6" y1="1482.3" x2="656.6" y2="1454.7" stroke-width="7.2"/>
<line x1="877.1" y1="1482.3" x2="877.1" y2="1454.7" stroke-width="7.2"/>
<line x1="1097.6" y1="1482.3" x2="1097.6" y2="1454.7" stroke-width="7.2"/>
<line x1="1318.1" y1="1482.3" x2="1318.1" y2="1454.7" stroke-width="7.2"/>
<line x1="1538.6" y1="1482.3" x2="1538.6" y2="1454.7" stroke-width="7.2"/>
<line x1="436.0" y1="1133.4" x2="463.6" y2="1133.4" stroke-width="7.2"/>
<line x1="436.0" y1="784.1" x2="463.6" y2="784.1" stroke-width="7.2"/>
<line x1="436.0" y1="434.8" x2="463.6" y2="434.8" stroke-width="7.2"/>
</g>
<g font-family="'Liberation Serif', serif" font-size="79.0" fill="#1a1411">
<text transform="translate(238.5,120.0) scale(1,1.075)">0.01</text>
<text transform="translate(193.2,465.3) scale(1,1.075)">0.005</text>
<text transform="translate(329.0,815.4) scale(1,1.075)">0</text>
<text transform="translate(169.0,1155.0) scale(1,1.075)"><tspan dy="-2.3">–</tspan><tspan dy="2.3">0.005</tspan></text>
<text transform="translate(215.3,1518.3) scale(1,1.075)"><tspan dy="-2.3">–</tspan><tspan dy="2.3">0.01</tspan></text>
<text transform="translate(367.8,1604.0) scale(1,1.075)"><tspan dy="-2.3">–</tspan><tspan dy="2.3">0.3</tspan></text>
<text transform="translate(601.6,1602.6) scale(1,1.075)"><tspan dy="-2.3">–</tspan><tspan dy="2.3">0.2</tspan></text>
<text transform="translate(811.5,1600.6) scale(1,1.075)"><tspan dy="-2.3">–</tspan><tspan dy="2.3">0.1</tspan></text>
<text transform="translate(1072.0,1607.2) scale(1,1.075)">0</text>
<text transform="translate(1267.5,1599.0) scale(1,1.075)">0.1</text>
<text transform="translate(1489.7,1600.8) scale(1,1.075)">0.2</text>
<text transform="translate(1727.8,1603.0) scale(1,1.075)">0.3</text>
<text transform="translate(730.3,1719.3) scale(1,1.075)">Magnetic field <tspan font-style="italic">H</tspan>, A<tspan dx="-3.3">·</tspan><tspan dx="-3.3">m</tspan></text>
<text transform="translate(1445.0,1671.5) scale(1,1.075)" font-size="45.5">–1</text>
<text transform="translate(113.7,1210.0) scale(1,1.055) rotate(-90)">Magnetic induction <tspan font-style="italic">B</tspan>, T</text>
</g>
</svg>
</body>
</html>
